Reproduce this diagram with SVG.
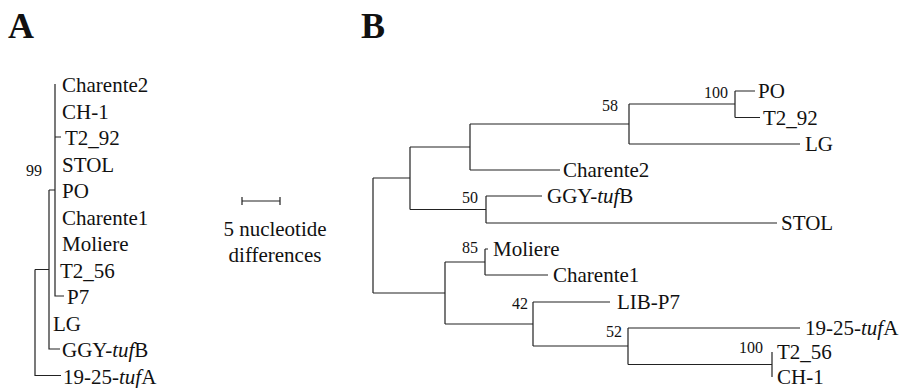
<svg xmlns="http://www.w3.org/2000/svg" width="907" height="388" viewBox="0 0 907 388">
<style>
text{font-family:"Liberation Serif","Times New Roman",serif;fill:#111}
.lbl{font-size:21px}
.bs{font-size:16px;text-anchor:end}
.ttl{font-size:36px;font-weight:bold}
.it{font-style:italic}
.br{stroke:#222;stroke-width:1.2;fill:none}
</style>
<rect width="907" height="388" fill="#fff"/>
<g id="titles">
<text class="ttl" x="8" y="38">A</text>
<text class="ttl" x="361" y="38">B</text>
</g>
<g id="connectors">
<!-- Panel A -->
<path class="br" d="M55 84V296H64 M55 137H61 M49 190H55 M49 190V349H60 M35 269.5H49 M35 269.5V375.5H61"/>
<!-- scale bar -->
<path class="br" d="M242 201H280 M242 197V205 M280 197V205"/>
<!-- Panel B -->
<path class="br" d="M735 91V117.5 M735 91H755 M735 117.5H760"/>
<path class="br" d="M629 104V144 M629 104H735 M629 144H800"/>
<path class="br" d="M470 124V170 M470 124H629 M470 170H560"/>
<path class="br" d="M486 196V223 M486 196H542 M486 223H777"/>
<path class="br" d="M410 147V209.5 M410 147H470 M410 209.5H486"/>
<path class="br" d="M485 249V275 M485 249H488 M485 275H548"/>
<path class="br" d="M772 352V377"/>
<path class="br" d="M628 328V364.5 M628 328H800 M628 364.5H772"/>
<path class="br" d="M533 302V346 M533 302H610 M533 346H628"/>
<path class="br" d="M445 262V324 M445 262H485 M445 324H533"/>
<path class="br" d="M373 178V293 M373 178H410 M373 293H445"/>
</g>
<g id="A-labels">
<g id="A-Charente2"><text class="lbl" x="62" y="92">Charente2</text></g>
<g id="A-CH-1"><text class="lbl" x="62" y="118.5">CH-1</text></g>
<g id="A-T2_92"><text class="lbl" x="65" y="145">T2_92</text></g>
<g id="A-STOL"><text class="lbl" x="62" y="171.5">STOL</text></g>
<g id="A-PO"><text class="lbl" x="62" y="198">PO</text></g>
<g id="A-Charente1"><text class="lbl" x="62" y="224.5">Charente1</text></g>
<g id="A-Moliere"><text class="lbl" x="62" y="251">Moliere</text></g>
<g id="A-T2_56"><text class="lbl" x="60" y="277.5">T2_56</text></g>
<g id="A-P7"><text class="lbl" x="67" y="304">P7</text></g>
<g id="A-LG"><text class="lbl" x="53" y="330.5">LG</text></g>
<g id="A-GGY"><text class="lbl" x="62" y="357">GGY-<tspan class="it">tuf</tspan>B</text></g>
<g id="A-1925"><text class="lbl" x="63" y="383.5">19-25-<tspan class="it">tuf</tspan>A</text></g>
<g id="A-bs99"><text class="bs" x="42" y="176">99</text></g>
</g>
<g id="scale">
<text class="lbl" x="275" y="236" text-anchor="middle">5 nucleotide</text>
<text class="lbl" x="275" y="262" text-anchor="middle">differences</text>
</g>
<g id="B-labels">
<g id="B-PO"><text class="lbl" x="758" y="98">PO</text></g>
<g id="B-T2_92"><text class="lbl" x="763" y="124.5">T2_92</text></g>
<g id="B-LG"><text class="lbl" x="805" y="151">LG</text></g>
<g id="B-Charente2"><text class="lbl" x="563" y="177">Charente2</text></g>
<g id="B-GGY"><text class="lbl" x="547" y="203">GGY-<tspan class="it">tuf</tspan>B</text></g>
<g id="B-STOL"><text class="lbl" x="781" y="230">STOL</text></g>
<g id="B-Moliere"><text class="lbl" x="493" y="256">Moliere</text></g>
<g id="B-Charente1"><text class="lbl" x="553" y="282">Charente1</text></g>
<g id="B-LIB-P7"><text class="lbl" x="617" y="309">LIB-P7</text></g>
<g id="B-1925"><text class="lbl" x="805" y="335">19-25-<tspan class="it">tuf</tspan>A</text></g>
<g id="B-T2_56"><text class="lbl" x="777" y="359">T2_56</text></g>
<g id="B-CH-1"><text class="lbl" x="777" y="384">CH-1</text></g>
<g id="B-bs100a"><text class="bs" x="728" y="98">100</text></g>
<g id="B-bs58"><text class="bs" x="618" y="111">58</text></g>
<g id="B-bs50"><text class="bs" x="478" y="203">50</text></g>
<g id="B-bs85"><text class="bs" x="478" y="253">85</text></g>
<g id="B-bs42"><text class="bs" x="528" y="309">42</text></g>
<g id="B-bs52"><text class="bs" x="622" y="337">52</text></g>
<g id="B-bs100b"><text class="bs" x="763" y="353">100</text></g>
</g>
</svg>
